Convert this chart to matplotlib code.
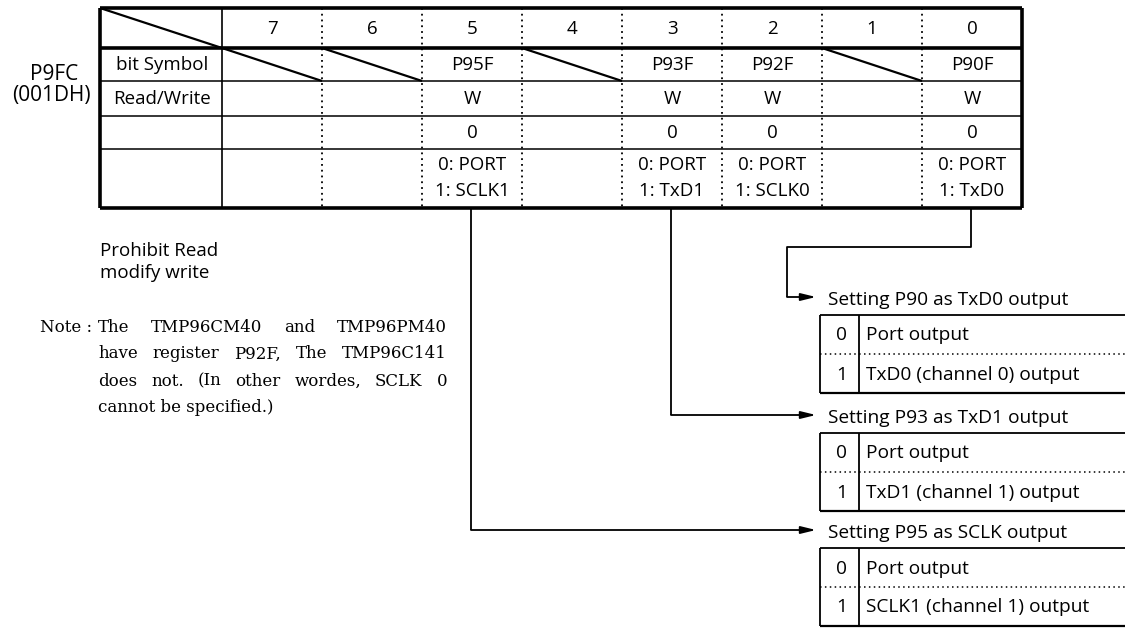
import matplotlib
matplotlib.use("Agg")
import matplotlib.pyplot as plt

# ---------------- data ----------------
register_name = "P9FC"
register_addr = "(001DH)"
bit_numbers = ["7", "6", "5", "4", "3", "2", "1", "0"]
row_labels = ["bit Symbol", "Read/Write", "", ""]
bit_symbols = ["", "", "P95F", "", "P93F", "P92F", "", "P90F"]
read_write = ["", "", "W", "", "W", "W", "", "W"]
reset_values = ["", "", "0", "", "0", "0", "", "0"]
func_line0 = ["", "", "0: PORT", "", "0: PORT", "0: PORT", "", "0: PORT"]
func_line1 = ["", "", "1: SCLK1", "", "1: TxD1", "1: SCLK0", "", "1: TxD0"]
unused_bits = [0, 1, 3, 6]          # column indices with diagonal (no symbol)

prohibit_text = ["Prohibit Read", "modify write"]
note_label = "Note :"
note_lines = ["The TMP96CM40 and TMP96PM40",
              "have register P92F, The TMP96C141",
              "does not.  (In other wordes, SCLK 0",
              "cannot be specified.)"]

setting_titles = ["Setting P90 as TxD0 output",
                  "Setting P93 as TxD1 output",
                  "Setting P95 as SCLK output"]
setting_source_cols = [7, 4, 2]
setting_opt0 = ["Port output", "Port output", "Port output"]
setting_opt1 = ["TxD0 (channel 0) output", "TxD1 (channel 1) output",
                "SCLK1 (channel 1) output"]

# ---------------- layout ----------------
W, H = 1125, 628
fig = plt.figure(figsize=(W / 100, H / 100), dpi=100)
ax = fig.add_axes([0, 0, 1, 1])
ax.set_xlim(0, W)
ax.set_ylim(H, 0)
ax.axis("off")

SANS = ["Open Sans", "DejaVu Sans"]
SERIF = ["DejaVu Serif"]
K = "black"

x_left, x_lab, col_w = 100, 222, 100
x_right = x_lab + 8 * col_w
row_y = [8, 48, 81, 116, 149, 208]
dot = (0, (1, 2.2))

def line(xs, ys, lw=1.2, ls="-"):
    ax.plot(xs, ys, color=K, lw=lw, ls=ls, solid_capstyle="butt")

# horizontal lines
line([x_left, x_right], [row_y[0]] * 2, lw=2.6)
line([x_left, x_right], [row_y[1]] * 2, lw=2.6)
for y in row_y[2:5]:
    line([x_left, x_right], [y, y], lw=1.1)
line([x_left, x_right], [row_y[5]] * 2, lw=2.6)
# verticals
line([x_left] * 2, [row_y[0], row_y[5]], lw=2.6)
line([x_right] * 2, [row_y[0], row_y[5]], lw=2.6)
line([x_lab] * 2, [row_y[0], row_y[5]], lw=1.2)
for i in range(1, 8):
    x = x_lab + i * col_w
    line([x, x], [row_y[0], row_y[5]], lw=1.3, ls=dot)

# diagonals
line([x_left, x_lab], [row_y[0], row_y[1]], lw=1.6)
for c in unused_bits:
    x0 = x_lab + c * col_w
    line([x0, x0 + col_w], [row_y[1], row_y[2]], lw=1.6)

FS = 13.5
def ctext(x, y, s, fs=FS, fam=SANS, ha="center"):
    ax.text(x, y, s, ha=ha, va="center", fontsize=fs, family=fam, color=K)

# row labels
for r, lab in enumerate(row_labels):
    ctext((x_left + x_lab) / 2 + 1, (row_y[r + 1] + row_y[r + 2]) / 2 + 1, lab)

for c in range(8):
    xc = x_lab + c * col_w + col_w / 2
    ctext(xc, (row_y[0] + row_y[1]) / 2 + 1, bit_numbers[c])
    ctext(xc, (row_y[1] + row_y[2]) / 2 + 1, bit_symbols[c])
    ctext(xc, (row_y[2] + row_y[3]) / 2 + 1, read_write[c])
    ctext(xc, (row_y[3] + row_y[4]) / 2 + 1, reset_values[c])
    ctext(xc, 165, func_line0[c])
    ctext(xc, 191, func_line1[c])

ctext(54, 74, register_name, fs=15)
ctext(51, 96, register_addr, fs=15)

# prohibit text
ctext(100, 251, prohibit_text[0], ha="left")
ctext(100, 273, prohibit_text[1], ha="left")

# note (justified serif)
fig.canvas.draw()
renderer = fig.canvas.get_renderer()
NFS = 12
note_ys = [327, 354, 381, 407]
ctext(40, note_ys[0], note_label, fs=NFS, fam=SERIF, ha="left")
note_x0, note_x1 = 98, 447
for li, (s, y) in enumerate(zip(note_lines, note_ys)):
    if li == len(note_lines) - 1:
        ctext(note_x0, y, s, fs=NFS, fam=SERIF, ha="left")
        continue
    words = s.split()
    ts = [ax.text(0, y, w_, ha="left", va="center", fontsize=NFS,
                  family=SERIF, color=K) for w_ in words]
    widths = [t.get_window_extent(renderer).width for t in ts]
    gap = (note_x1 - note_x0 - sum(widths)) / (len(words) - 1)
    gap = max(gap, 4)
    x = note_x0
    for t, wd in zip(ts, widths):
        t.set_x(x)
        x += wd + gap

# setting boxes
arrow_ys = [297, 415, 530]
box_tops = [315, 433, 548]
box_h = 78
bx0, bdiv = 820, 859
SFS = 13.8
for i in range(3):
    src_x = x_lab + setting_source_cols[i] * col_w + col_w / 2 - 1
    ay = arrow_ys[i]
    if i == 0:
        line([src_x, src_x, 787, 787], [row_y[5], 247, 247, ay], lw=1.3)
        start_x = 787
    else:
        line([src_x, src_x], [row_y[5], ay], lw=1.3)
        start_x = src_x
    ax.annotate("", xy=(816, ay), xytext=(start_x, ay),
                arrowprops=dict(arrowstyle="-|>,head_length=0.9,head_width=0.22",
                                color=K, lw=1.3, shrinkA=0, shrinkB=0))
    ctext(828, ay + 3, setting_titles[i], fs=SFS, ha="left")
    t = box_tops[i]
    b = t + box_h
    m = t + box_h / 2
    line([bx0, W], [t, t], lw=1.3)
    line([bx0, W], [b, b], lw=1.6)
    line([bx0, W], [m, m], lw=1.1, ls=dot)
    line([bx0, bx0], [t, b], lw=1.3)
    line([bdiv, bdiv], [t, b], lw=1.3)
    ctext((bx0 + bdiv) / 2 + 2, (t + m) / 2 + 1, "0", fs=SFS)
    ctext((bx0 + bdiv) / 2 + 2, (m + b) / 2 + 1, "1", fs=SFS)
    ctext(866, (t + m) / 2 + 1, setting_opt0[i], fs=SFS, ha="left")
    ctext(866, (m + b) / 2 + 1, setting_opt1[i], fs=SFS, ha="left")

fig.savefig("out.png", dpi=100, facecolor="white")
